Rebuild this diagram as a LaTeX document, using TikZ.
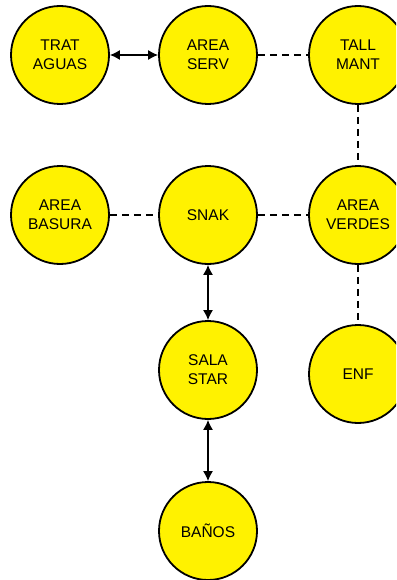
\documentclass[tikz,border=0pt]{standalone}
\usepackage{fontspec}
\setmainfont{Liberation Sans}
\usetikzlibrary{arrows.meta}
\begin{document}
\begin{tikzpicture}[x=1pt, y=-1pt,
    zona/.style={circle, draw=black, line width=1.8pt, fill=yellow,
      minimum size=98pt, inner sep=0pt, align=center,
      font=\fontsize{15.5}{19}\selectfont},
    enlace/.style={line width=1.3pt, dash pattern=on 7pt off 5pt},
    flujo/.style={line width=1.4pt, {Latex[length=10pt,width=10pt]}-{Latex[length=10pt,width=10pt]}}]
  % Marco de la figura
  \clip (0,0) rectangle (396,580);
  \useasboundingbox (0,0) rectangle (396,580);
  % Fila superior
  \node[zona] (trat) at (60,55) {TRAT\\AGUAS};
  \node[zona] (serv) at (208,55) {AREA\\SERV};
  \node[zona] (mant) at (358,55) {TALL\\MANT};
  % Fila central
  \node[zona] (basura) at (60,215) {AREA\\BASURA};
  \node[zona] (snak) at (208,215) {SNAK};
  \node[zona] (verdes) at (358,215) {AREA\\VERDES};
  % Columna inferior
  \node[zona] (sala) at (208,370) {SALA\\STAR};
  \node[zona] (enf) at (358,374) {ENF};
  \node[zona] (banos) at (208,531) {BAÑOS};
  % Enlaces punteados
  \draw[enlace] (serv) -- (mant);
  \draw[enlace] (mant) -- (verdes);
  \draw[enlace] (basura) -- (snak);
  \draw[enlace] (snak) -- (verdes);
  \draw[enlace] (verdes) -- (enf);
  % Flujos en ambos sentidos
  \draw[flujo] (trat) -- (serv);
  \draw[flujo] (snak) -- (sala);
  \draw[flujo] (sala) -- (banos);
\end{tikzpicture}
\end{document}
